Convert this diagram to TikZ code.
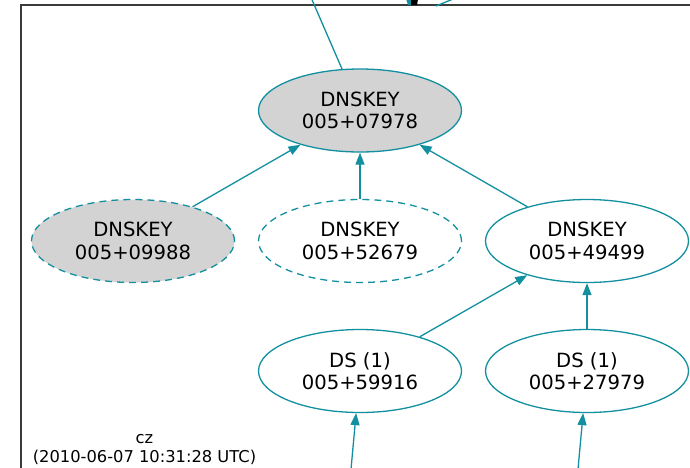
\documentclass[tikz,border=0pt]{standalone}
\usepackage{fontspec}
\setmainfont{DejaVu Sans}
\usetikzlibrary{shapes.geometric,arrows.meta}
\definecolor{teal1}{HTML}{12909F}
\definecolor{kgray}{HTML}{D3D3D3}
\definecolor{bord}{HTML}{3A3A3A}
\tikzset{
  kn/.style={ellipse, draw=teal1, line width=1.3pt, minimum width=203pt, minimum height=83pt, inner sep=0pt,
    align=center, font=\fontsize{19.6}{22.5}\selectfont},
  filledkn/.style={kn, fill=kgray},
  dashkn/.style={dash pattern=on 7pt off 5pt},
  edge/.style={draw=teal1, line width=1.3pt, -{Triangle[length=12pt,width=9pt]}},
  plainedge/.style={draw=teal1, line width=1.3pt},
  note/.style={font=\fontsize{16.3}{19}\selectfont, inner sep=0pt}
}
\begin{document}
\begin{tikzpicture}[x=1pt,y=-1pt]
\useasboundingbox (0,0) rectangle (690,467);
\clip (0,0) rectangle (690,467);
% cluster border
\draw[bord, line width=1.4pt] (700,5) -- (21,5) -- (21,480);
% nodes
\node[filledkn] (A) at (360,110.5) {DNSKEY\\005+07978};
\node[filledkn, dashkn] (B) at (133,241) {DNSKEY\\005+09988};
\node[kn, dashkn] (C) at (360,241) {DNSKEY\\005+52679};
\node[kn] (D) at (587,241) {DNSKEY\\005+49499};
\node[kn] (E) at (360,371) {DS (1)\\005+59916};
\node[kn] (F) at (587,371) {DS (1)\\005+27979};
% free ends
\coordinate (topA) at (303,-21);
\coordinate (botE) at (350,480);
\coordinate (botF) at (577,480);
\coordinate (t1) at (458,-3);
\coordinate (t2) at (436,6);
% edges
\draw[edge] (B) -- (A);
\draw[edge] (C) -- (A);
\draw[edge] (D) -- (A);
\draw[edge] (E) -- (D);
\draw[edge] (F) -- (D);
\draw[edge] (botE) -- (E);
\draw[edge] (botF) -- (F);
\draw[plainedge] (A) -- (topA);
\draw[plainedge] (t2) -- (t1);
% arrow heads at top edge
\fill[teal1] (406,-1) -- (411,-1) -- (411,5) -- (408,5) -- cycle;
\fill[black] (411,-1) -- (418,-1) -- (417,5) -- (411,5) -- cycle;
% cluster label
\node[note, anchor=base] (lab1) at (144.5,443) {cz};
\node[note, anchor=base] (lab2) at (144.5,462) {(2010-06-07 10:31:28 UTC)};
\end{tikzpicture}
\end{document}
